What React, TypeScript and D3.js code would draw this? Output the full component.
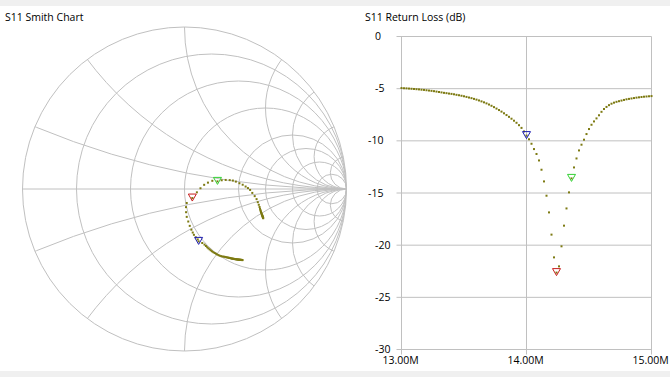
import React from 'react';
import * as d3 from 'd3';

// ---- data ----
const sweepStartHz = 13.0e6;
const sweepStepHz = 0.02e6;

const returnLossDb = [
  -4.94, -4.96, -4.97, -4.99, -5.01, -5.03, -5.05, -5.07, -5.10, -5.12,
  -5.15, -5.18, -5.21, -5.24, -5.28, -5.32, -5.36, -5.40, -5.43, -5.47,
  -5.50, -5.54, -5.59, -5.63, -5.68, -5.73, -5.79, -5.85, -5.91, -5.98,
  -6.05, -6.13, -6.22, -6.31, -6.41, -6.52, -6.64, -6.77, -6.91, -7.05,
  -7.20, -7.36, -7.53, -7.70, -7.88, -8.07, -8.27, -8.50, -8.76, -9.10,
  -9.50, -9.85, -10.28, -10.79, -11.26, -11.88, -12.77, -13.89, -15.26, -16.86,
  -18.99, -21.17, -22.63, -22.03, -20.11, -18.13, -16.48, -14.94, -13.60, -12.55,
  -11.69, -10.92, -10.37, -9.89, -9.35, -8.87, -8.46, -8.14, -7.85, -7.55,
  -7.22, -6.95, -6.75, -6.58, -6.44, -6.34, -6.26, -6.20, -6.14, -6.08,
  -6.02, -5.98, -5.94, -5.90, -5.86, -5.83, -5.80, -5.77, -5.75, -5.73,
  -5.71,
];

const s11PhaseDeg = [
  -50.8, -50.9, -51.0, -51.1, -51.2, -51.4, -51.5, -51.7, -51.8, -52.0,
  -52.2, -52.4, -52.6, -52.8, -53.0, -53.3, -53.6, -53.8, -54.0, -54.3,
  -54.5, -54.7, -55.1, -55.3, -55.7, -56.0, -56.3, -56.6, -57.1, -57.5,
  -58.0, -58.5, -59.1, -59.8, -60.6, -61.4, -62.2, -62.8, -63.5, -64.1,
  -64.8, -65.5, -66.2, -66.8, -67.4, -68.1, -68.7, -69.4, -70.2, -71.8,
  -74.9, -75.3, -76.8, -78.4, -79.3, -80.4, -81.9, -83.4, -85.4, -86.1,
  -85.3, -81.0, -49.2, -15.1, 2.6, 12.0, 15.2, 16.4, 13.0, 13.2,
  12.4, 11.1, 9.9, 8.2, 6.0, 4.2, 2.3, 0.8, -0.8, -3.3,
  -5.8, -8.0, -10.2, -12.0, -13.5, -14.7, -15.5, -16.2, -16.8, -17.3,
  -17.8, -18.2, -18.5, -18.8, -19.1, -19.4, -19.6, -19.8, -20.0, -20.2,
  -20.4,
];

const markerIndices = [62, 68, 50];
const markerColors = ['#c81e1e', '#33d133', '#1c1cb0'];

const smithResistances = [0.2, 0.5, 1, 2, 3, 5, 10];
const smithReactances = [0.2, 0.5, 1, 2, 3, 5, 10];

const rlTicksDb = [0, -5, -10, -15, -20, -25, -30];
const freqTicksHz = [13e6, 14e6, 15e6];

// ---- style ----
const W = 670;
const H = 377;
const gridColor = '#c0c0c0';
const traceColor = '#7d7a12';
const textColor = '#000';
const font = '"Open Sans", "Noto Sans", sans-serif';
const fontSize = 10.5;

const smith = { cx: 184.5, cy: 189, R: 162 };
const rl = { x0: 401.5, x1: 651.5, y0: 36.5, y1: 349.5 };

function Marker({ x, y, color }: { x: number; y: number; color: string }) {
  const s = 4;
  const p = d3.path();
  p.moveTo(x, y + s - 1);
  p.lineTo(x - s, y - s);
  p.lineTo(x + s, y - s);
  p.closePath();
  return <path d={p.toString()} fill="none" stroke={color} strokeWidth={1} />;
}

export default function App() {
  const n = returnLossDb.length;
  const freqs = d3.range(n).map((i) => sweepStartHz + i * sweepStepHz);

  // Smith scales
  const gx = d3.scaleLinear().domain([-1, 1]).range([smith.cx - smith.R, smith.cx + smith.R]);
  const gy = d3.scaleLinear().domain([-1, 1]).range([smith.cy + smith.R, smith.cy - smith.R]);
  const unit = smith.R;

  const gammaPts = returnLossDb.map((db, i) => {
    const mag = Math.pow(10, db / 20);
    const ph = (s11PhaseDeg[i] * Math.PI) / 180;
    return [mag * Math.cos(ph), mag * Math.sin(ph)];
  });

  // RL scales
  const xs = d3.scaleLinear().domain([13e6, 15e6]).range([rl.x0, rl.x1]);
  const ys = d3.scaleLinear().domain([0, -30]).range([rl.y0, rl.y1]);

  return (
    <svg
      width={W}
      height={H}
      style={{ position: 'absolute', left: 0, top: 0, display: 'block' }}
      fontFamily={font}
      fontSize={fontSize}
    >
      <rect x={0} y={0} width={W} height={H} fill="#f0f0f0" />
      <rect x={0} y={6} width={W} height={365} fill="#ffffff" />

      {/* Smith chart */}
      <text x={5} y={21} fill={textColor}>S11 Smith Chart</text>
      <defs>
        <clipPath id="smithClip">
          <circle cx={smith.cx} cy={smith.cy} r={smith.R} />
        </clipPath>
      </defs>
      <g fill="none" stroke={gridColor} strokeWidth={1}>
        <circle cx={smith.cx} cy={smith.cy} r={smith.R} />
        <line x1={gx(-1)} x2={gx(1)} y1={gy(0)} y2={gy(0)} />
        <g clipPath="url(#smithClip)">
          {smithResistances.map((r) => (
            <circle key={'r' + r} cx={gx(r / (r + 1))} cy={gy(0)} r={unit / (r + 1)} />
          ))}
          {smithReactances.map((x) => (
            <g key={'x' + x}>
              <circle cx={gx(1)} cy={gy(1 / x)} r={unit / x} />
              <circle cx={gx(1)} cy={gy(-1 / x)} r={unit / x} />
            </g>
          ))}
        </g>
      </g>
      <g fill={traceColor}>
        {gammaPts.map(([re, im], i) => (
          <rect key={i} x={gx(re) - 1} y={gy(im) - 1} width={2} height={2} />
        ))}
      </g>
      {markerIndices.map((idx, k) => (
        <Marker key={k} x={gx(gammaPts[idx][0])} y={gy(gammaPts[idx][1])} color={markerColors[k]} />
      ))}

      {/* Return loss */}
      <text x={365} y={21} fill={textColor}>S11 Return Loss (dB)</text>
      <g stroke={gridColor} strokeWidth={1}>
        {rlTicksDb.map((t) => (
          <line key={t} x1={rl.x0 - 5} x2={rl.x1} y1={ys(t)} y2={ys(t)} />
        ))}
        {freqTicksHz.map((f) => (
          <line key={f} x1={xs(f)} x2={xs(f)} y1={rl.y0} y2={rl.y1 + 5} />
        ))}
      </g>
      <g fill={textColor}>
        {rlTicksDb.map((t) => (
          <text key={t} x={String(t).includes('1') ? 368 : 375} y={ys(t) + 3.5}>
            {String(t)}
          </text>
        ))}
        {freqTicksHz.map((f) => (
          <text key={f} x={xs(f) - 1} y={363.5} textAnchor="middle">
            {(f / 1e6).toFixed(2) + 'M'}
          </text>
        ))}
      </g>
      <g fill={traceColor}>
        {returnLossDb.map((db, i) => (
          <rect key={i} x={xs(freqs[i]) - 1} y={ys(db) - 1} width={2} height={2} />
        ))}
      </g>
      {markerIndices.map((idx, k) => (
        <Marker key={k} x={xs(freqs[idx])} y={ys(returnLossDb[idx])} color={markerColors[k]} />
      ))}
    </svg>
  );
}
